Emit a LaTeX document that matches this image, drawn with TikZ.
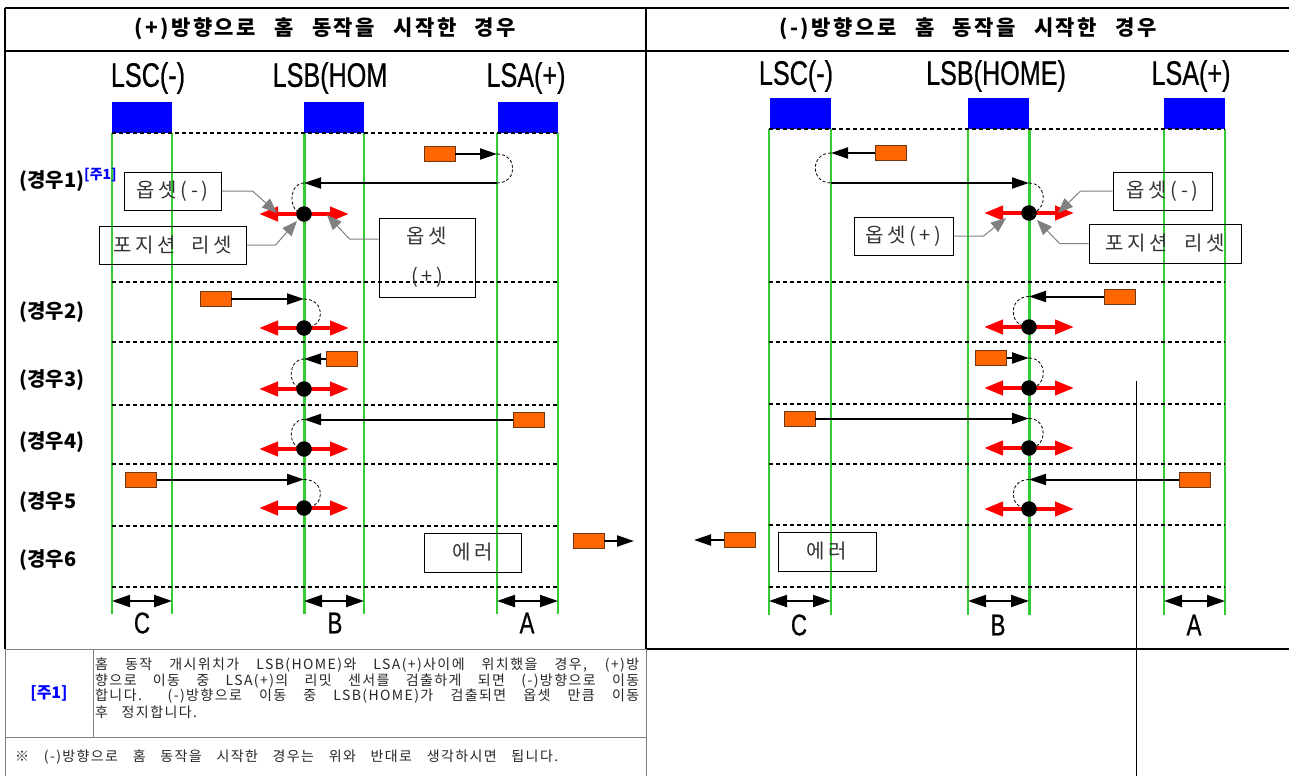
\documentclass[tikz,border=0pt]{standalone}
\usepackage{fontspec}
\setmainfont{Noto Sans CJK KR}
\newfontfamily\narrowlat[FakeStretch=0.74,FakeBold=0.6]{Liberation Sans}
\newfontfamily\spacedkor[LetterSpace=12,WordSpace=2.5]{Noto Sans CJK KR}
\newfontfamily\tagkor[LetterSpace=18,WordSpace=2]{Noto Sans CJK KR}
\newfontfamily\notekor[LetterSpace=10,WordSpace=3]{Noto Sans CJK KR}
\usetikzlibrary{arrows.meta,calc}

\definecolor{limgreen}{RGB}{51,204,51}
\definecolor{motorfill}{RGB}{255,102,0}
\definecolor{motordraw}{RGB}{110,55,20}
\definecolor{pointgray}{RGB}{128,128,128}
\definecolor{travelred}{RGB}{255,0,0}

\newcommand\hdrfont{\spacedkor\bfseries\fontsize{21}{24}\selectfont}
\newcommand\collabfont{\narrowlat\fontsize{34}{36}\selectfont}
\newcommand\gaugefont{\narrowlat\fontsize{30}{32}\selectfont}
\newcommand\casefont{\bfseries\fontsize{20}{22}\selectfont}
\newcommand\tagfont{\tagkor\fontsize{20}{22}\selectfont}
\newcommand\notefont{\notekor\fontsize{14}{16}\selectfont}

\tikzset{
  sensor/.style={fill=blue,minimum width=60pt,minimum height=31pt,inner sep=0pt},
  limit/.style={limgreen,line width=1.3pt},
  homeline/.style={limgreen,line width=3pt},
  rowline/.style={line width=1.5pt,dash pattern=on 4pt off 3pt},
  motor/.style={fill=motorfill,draw=motordraw,line width=0.8pt,minimum width=31pt,minimum height=15pt,inner sep=0pt},
  move/.style={line width=2pt,-{Triangle[length=17pt,width=11pt]}},
  uturn/.style={line width=0.8pt,dash pattern=on 3pt off 2pt},
  stopdot/.style={circle,fill=black,minimum size=15.5pt,inner sep=0pt},
  travel/.style={travelred,line width=4pt,{Triangle[length=19pt,width=14pt]}-{Triangle[length=19pt,width=14pt]}},
  tag/.style={draw,line width=1pt,text=black!80,font=\tagfont,inner sep=0pt},
  pointer/.style={pointgray,line width=1pt,-{Triangle[length=15pt,width=12pt]}},
  gauge/.style={line width=2pt,{Triangle[length=18pt,width=12pt]}-{Triangle[length=18pt,width=12pt]}},
  noteline/.style={font=\notefont,anchor=west,text=black!85},
}

\begin{document}
\begin{tikzpicture}[x=1pt,y=-1pt,inner sep=0pt]
  \useasboundingbox (0,0) rectangle (1289,776);
  % frame
  \draw[line width=1.2pt] (5,8) -- (1289,8);
  \draw[line width=1.2pt] (5,51) -- (1289,51);
  \draw[line width=1.2pt] (5,8) -- (5,649);
  \draw[line width=1.2pt] (646,8) -- (646,649);
  \draw[line width=1.2pt] (646,649) -- (1289,649);
  \draw[line width=1pt] (1136,381) -- (1136,776);
  \draw[pointgray,line width=1pt] (5,649) -- (646,649) (5,649) -- (5,776) (646,649) -- (646,776)
    (93,649) -- (93,737) (5,737) -- (646,737);

  \node[font=\hdrfont] (hdrL) at (325,29) {(+)방향으로 홈 동작을 시작한 경우};
  \node[font=\hdrfont] (hdrR) at (968,29) {(-)방향으로 홈 동작을 시작한 경우};

  % ---------- (+) side ----------
  \node[sensor] (lscL) at (142,117.5) {};
  \node[sensor] (lsbL) at (334,117.5) {};
  \node[sensor] (lsaL) at (527.5,117.5) {};
  \node[font=\collabfont] (lscLtxt) at (148,78) {LSC(-)};
  \node[font=\collabfont] (lsbLtxt) at (330,78) {LSB(HOM};
  \node[font=\collabfont] (lsaLtxt) at (526,78) {LSA(+)};
  \foreach \x in {112,172,364,497,558} \draw[limit] (\x,133) -- (\x,614);
  \draw[homeline] (304,133) -- (304,614);
  \foreach \y in {133,282,342,405,464,526,587} \draw[rowline] (112,\y) -- (558,\y);

  \node[font=\casefont,anchor=west] (case1L) at (19,180) {(경우1)\textsuperscript{\textcolor{blue}{[주1]}}};
  \node[font=\casefont,anchor=west] (case2L) at (19,312) {(경우2)};
  \node[font=\casefont,anchor=west] (case3L) at (19,380) {(경우3)};
  \node[font=\casefont,anchor=west] (case4L) at (19,442) {(경우4)};
  \node[font=\casefont,anchor=west] (case5L) at (19,502) {(경우5};
  \node[font=\casefont,anchor=west] (case6L) at (19,560) {(경우6};

  % case 1
  \coordinate (p1L) at (304,214);
  \draw[travel] ($(p1L)+(-45,0)$) -- ($(p1L)+(45,0)$);
  \node[motor] (m1L) at (439.5,154) {};
  \coordinate (a1L) at (497,154);
  \coordinate (b1L) at (497,183);
  \coordinate (h1L) at (304,183);
  \draw[move] (m1L) -- (a1L);
  \draw[uturn] (a1L) .. controls +(21,0) and +(21,0) .. (b1L);
  \draw[move] (b1L) -- (h1L);
  \draw[uturn] (h1L) .. controls +(-16,0) and +(-16,0) .. (p1L);
  \node[stopdot] (d1L) at (p1L) {};
  \node[tag,minimum width=97pt,minimum height=38pt] (off1L) at (172.5,191) {옵셋(-)};
  \node[tag,minimum width=147pt,minimum height=38pt] (pos1L) at (172.5,245) {포지션 리셋};
  \node[tag,minimum width=96pt,minimum height=79pt,align=center,font=\tagkor\fontsize{20}{40}\selectfont] (off2L) at (427,257.5) {옵셋\\(+)};
  \draw[pointer] (off1L.east) -- ++(31,0) -- ($(d1L)+(-27,-1)$);
  \draw[pointer] (pos1L.east) -- ++(29,0) -- ($(d1L)+(-7,7)$);
  \draw[pointer] ([yshift=18.5pt]off2L.west) -- ++(-29,0) -- ($(d1L)+(23,1)$);

  % case 2
  \coordinate (p2L) at (304,328);
  \draw[travel] ($(p2L)+(-45,0)$) -- ($(p2L)+(45,0)$);
  \node[motor] (m2L) at (215.5,299) {};
  \coordinate (h2L) at (304,299);
  \draw[move] (m2L) -- (h2L);
  \draw[uturn] (h2L) .. controls +(22,0) and +(22,0) .. (p2L);
  \node[stopdot] (d2L) at (p2L) {};

  % case 3
  \coordinate (p3L) at (304,389);
  \draw[travel] ($(p3L)+(-45,0)$) -- ($(p3L)+(45,0)$);
  \node[motor] (m3L) at (342,359) {};
  \coordinate (h3L) at (304,359);
  \draw[move] (m3L) -- (h3L);
  \draw[uturn] (h3L) .. controls +(-17,0) and +(-17,0) .. (p3L);
  \node[stopdot] (d3L) at (p3L) {};

  % case 4
  \coordinate (p4L) at (304,449);
  \draw[travel] ($(p4L)+(-45,0)$) -- ($(p4L)+(45,0)$);
  \node[motor] (m4L) at (528.5,419.5) {};
  \coordinate (h4L) at (304,419.5);
  \draw[move] (m4L) -- (h4L);
  \draw[uturn] (h4L) .. controls +(-17,0) and +(-17,0) .. (p4L);
  \node[stopdot] (d4L) at (p4L) {};

  % case 5
  \coordinate (p5L) at (304,508);
  \draw[travel] ($(p5L)+(-45,0)$) -- ($(p5L)+(45,0)$);
  \node[motor] (m5L) at (141,479.5) {};
  \coordinate (h5L) at (304,479.5);
  \draw[move] (m5L) -- (h5L);
  \draw[uturn] (h5L) .. controls +(22,0) and +(22,0) .. (p5L);
  \node[stopdot] (d5L) at (p5L) {};

  % case 6
  \node[tag,minimum width=97pt,minimum height=39pt] (err6L) at (472.5,552.5) {에러};
  \node[motor] (m6L) at (588.5,541) {};
  \coordinate (e6L) at (634,541);
  \draw[move] (m6L) -- (e6L);

  \coordinate (cL1) at (112,601); \coordinate (cL2) at (172,601);
  \coordinate (bL1) at (304,601); \coordinate (bL2) at (364,601);
  \coordinate (aL1) at (497,601); \coordinate (aL2) at (558,601);
  \draw[gauge] (cL1) -- (cL2);
  \draw[gauge] (bL1) -- (bL2);
  \draw[gauge] (aL1) -- (aL2);
  \node[font=\gaugefont] (cLtxt) at (142,623) {C};
  \node[font=\gaugefont] (bLtxt) at (335,623) {B};
  \node[font=\gaugefont] (aLtxt) at (527,623) {A};

  % ---------- (-) side ----------
  \node[sensor,minimum width=61pt] (lscR) at (800,113.5) {};
  \node[sensor,minimum width=61pt] (lsbR) at (998.5,113.5) {};
  \node[sensor,minimum width=61pt] (lsaR) at (1194.5,113.5) {};
  \node[font=\collabfont] (lscRtxt) at (796,76) {LSC(-)};
  \node[font=\collabfont] (lsbRtxt) at (996,76) {LSB(HOME)};
  \node[font=\collabfont] (lsaRtxt) at (1191,76) {LSA(+)};
  \foreach \x in {769,831,968,1164,1225} \draw[limit] (\x,129) -- (\x,615);
  \draw[homeline] (1029,129) -- (1029,615);
  \foreach \y in {129,282,342,404,464,525,587} \draw[rowline] (769,\y) -- (1225,\y);

  % case 1
  \coordinate (p1R) at (1029,213);
  \draw[travel] ($(p1R)+(-45,0)$) -- ($(p1R)+(45,0)$);
  \node[motor] (m1R) at (890.5,153) {};
  \coordinate (a1R) at (831,153);
  \coordinate (b1R) at (831,183);
  \coordinate (h1R) at (1029,183);
  \draw[move] (m1R) -- (a1R);
  \draw[uturn] (a1R) .. controls +(-21,0) and +(-21,0) .. (b1R);
  \draw[move] (b1R) -- (h1R);
  \draw[uturn] (h1R) .. controls +(19,0) and +(19,0) .. (p1R);
  \node[stopdot] (d1R) at (p1R) {};
  \node[tag,minimum width=99pt,minimum height=38pt] (off1R) at (1162.5,191) {옵셋(-)};
  \node[tag,minimum width=99pt,minimum height=38pt] (off2R) at (903.5,236) {옵셋(+)};
  \node[tag,minimum width=152pt,minimum height=39pt] (pos1R) at (1165,243.5) {포지션 리셋};
  \draw[pointer] (off1R.west) -- ++(-32,0) -- ($(d1R)+(29,0)$);
  \draw[pointer] (off2R.east) -- ++(30,0) -- ($(d1R)+(-23,5)$);
  \draw[pointer] (pos1R.west) -- ++(-29,0) -- ($(d1R)+(8,7)$);

  % case 2
  \coordinate (p2R) at (1029,327);
  \draw[travel] ($(p2R)+(-45,0)$) -- ($(p2R)+(45,0)$);
  \node[motor] (m2R) at (1120,296.5) {};
  \coordinate (h2R) at (1029,296.5);
  \draw[move] (m2R) -- (h2R);
  \draw[uturn] (h2R) .. controls +(-21,0) and +(-21,0) .. (p2R);
  \node[stopdot] (d2R) at (p2R) {};

  % case 3
  \coordinate (p3R) at (1029,388);
  \draw[travel] ($(p3R)+(-45,0)$) -- ($(p3R)+(45,0)$);
  \node[motor] (m3R) at (991,358) {};
  \coordinate (h3R) at (1029,358);
  \draw[move] (m3R) -- (h3R);
  \draw[uturn] (h3R) .. controls +(19,0) and +(19,0) .. (p3R);
  \node[stopdot] (d3R) at (p3R) {};

  % case 4
  \coordinate (p4R) at (1029,448);
  \draw[travel] ($(p4R)+(-45,0)$) -- ($(p4R)+(45,0)$);
  \node[motor] (m4R) at (799.5,418.5) {};
  \coordinate (h4R) at (1029,418.5);
  \draw[move] (m4R) -- (h4R);
  \draw[uturn] (h4R) .. controls +(19,0) and +(19,0) .. (p4R);
  \node[stopdot] (d4R) at (p4R) {};

  % case 5
  \coordinate (p5R) at (1029,509);
  \draw[travel] ($(p5R)+(-45,0)$) -- ($(p5R)+(45,0)$);
  \node[motor] (m5R) at (1195,479.5) {};
  \coordinate (h5R) at (1029,479.5);
  \draw[move] (m5R) -- (h5R);
  \draw[uturn] (h5R) .. controls +(-21,0) and +(-21,0) .. (p5R);
  \node[stopdot] (d5R) at (p5R) {};

  % case 6
  \node[tag,minimum width=98pt,minimum height=39pt] (err6R) at (827,551.5) {에러};
  \node[motor] (m6R) at (739.5,540) {};
  \coordinate (e6R) at (694,540);
  \draw[move] (m6R) -- (e6R);

  \coordinate (cR1) at (769,601); \coordinate (cR2) at (831,601);
  \coordinate (bR1) at (968,601); \coordinate (bR2) at (1029,601);
  \coordinate (aR1) at (1164,601); \coordinate (aR2) at (1225,601);
  \draw[gauge] (cR1) -- (cR2);
  \draw[gauge] (bR1) -- (bR2);
  \draw[gauge] (aR1) -- (aR2);
  \node[font=\gaugefont] (cRtxt) at (799,625) {C};
  \node[font=\gaugefont] (bRtxt) at (998,625) {B};
  \node[font=\gaugefont] (aRtxt) at (1194,625) {A};

  % notes
  \node[font=\bfseries\fontsize{16}{18}\selectfont,text=blue] (ref1) at (49,693) {[주1]};
  \node[noteline] (note1) at (95,664.5) {\makebox[544pt][s]{홈 동작 개시위치가 LSB(HOME)와 LSA(+)사이에 위치했을 경우, (+)방}};
  \node[noteline] (note2) at (95,681) {\makebox[544pt][s]{향으로 이동 중 LSA(+)의 리밋 센서를 검출하게 되면 (-)방향으로 이동}};
  \node[noteline] (note3) at (95,696.5) {\makebox[544pt][s]{합니다. (-)방향으로 이동 중 LSB(HOME)가 검출되면 옵셋 만큼 이동}};
  \node[noteline] (note4) at (95,712) {후 정지합니다.};
  \node[noteline] (note5) at (15,757) {\makebox[543pt][s]{※ (-)방향으로 홈 동작을 시작한 경우는 위와 반대로 생각하시면 됩니다.}};
\end{tikzpicture}
\end{document}
